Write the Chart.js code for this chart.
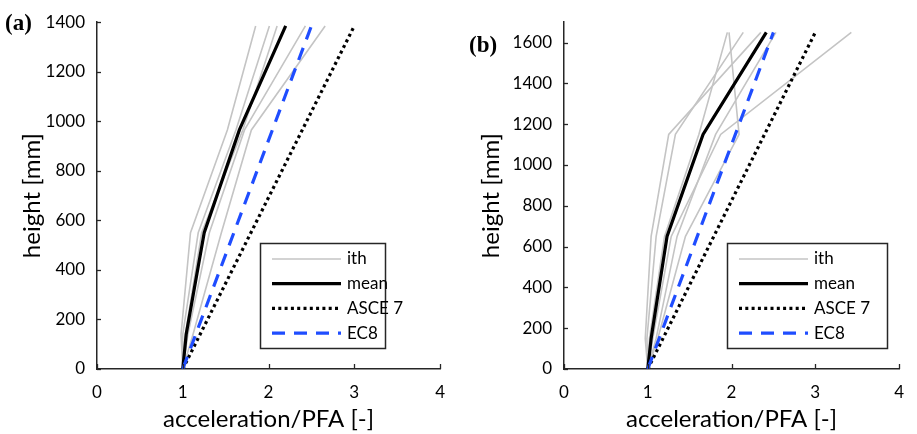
<!DOCTYPE html>
<html><head><meta charset="utf-8">
<script src="https://cdn.jsdelivr.net/npm/chart.js@4.4.1/dist/chart.umd.min.js"></script>
<style>
html,body{margin:0;padding:0;background:#fff;}
#wrap{position:relative;width:917px;height:434px;overflow:hidden;background:#fff;}
.pane{position:absolute;top:0;height:434px;}
#pa{left:0;width:458px;} #pb{left:458px;width:459px;}
.lbl{position:absolute;font-family:"Liberation Serif";font-weight:bold;font-size:23px;color:#000;line-height:1;}
</style></head><body>
<div id="wrap">
<div class="pane" id="pa"><canvas id="ca" width="458" height="434"></canvas></div>
<div class="pane" id="pb"><canvas id="cb" width="459" height="434"></canvas></div>
<div class="lbl" style="left:5px;top:11px">(a)</div>
<div class="lbl" style="left:469px;top:33px">(b)</div>
</div>
<script>
// ---- data ----
const xTickValues = [0, 1, 2, 3, 4];
const yTicksA = [0, 200, 400, 600, 800, 1000, 1200, 1400];
const yTicksB = [0, 200, 400, 600, 800, 1000, 1200, 1400, 1600];
const legendLabels = ['ith', 'mean', 'ASCE 7', 'EC8'];

const heightsA = [0, 140, 550, 965, 1385];
const ithA1 = [1, 0.98, 1.09, 1.52, 1.85];
const ithA2 = [1, 1.00, 1.18, 1.62, 2.01];
const ithA3 = [1, 1.03, 1.22, 1.70, 2.10];
const ithA4 = [1, 1.06, 1.31, 1.72, 2.43];
const ithA5 = [1, 1.12, 1.45, 1.80, 2.66];
const meanA = [1, 1.04, 1.25, 1.66, 2.20];
const codeHeightsA = [0, 1385];
const asceA = [1, 3.0];
const ec8A = [1, 2.5];

const heightsB = [0, 150, 650, 1150, 1650];
const ithB1 = [1, 0.97, 1.04, 1.25, 2.35];
const ithB2 = [1, 0.99, 1.10, 1.33, 2.14];
const ithB3 = [1, 1.02, 1.20, 1.61, 1.95];
const ithB4 = [1, 1.12, 1.45, 2.09, 1.97];
const ithB5 = [1, 1.10, 1.35, 1.81, 2.53];
const ithB6 = [1, 1.06, 1.28, 1.87, 3.43];
const meanB = [1, 1.04, 1.23, 1.66, 2.415];
const codeHeightsB = [0, 1650];
const asceB = [1, 3.0];
const ec8B = [1, 2.5];

// ---- styles ----
const FONT = 'Lato, "Open Sans", sans-serif';
const ST = {
  ith:  {borderColor:'#c4c4c4', borderWidth:1.6, borderDash:[]},
  mean: {borderColor:'#000000', borderWidth:3.2, borderDash:[]},
  asce: {borderColor:'#000000', borderWidth:3.2, borderDash:[3,3.3]},
  ec8:  {borderColor:'#1f4dff', borderWidth:3.2, borderDash:[13,9]}
};
Chart.defaults.font.family = FONT;
Chart.defaults.font.size = 17;
Chart.defaults.color = '#000';

function pts(xs, ys){ return xs.map((v,i)=>({x:v, y:ys[i]})); }
function ds(xs, ys, st, order){
  return Object.assign({data:pts(xs,ys), showLine:true, pointRadius:0, pointHoverRadius:0,
    tension:0, fill:false, order:order, borderCapStyle:'butt', borderJoinStyle:'miter'}, st);
}

const deco = {
  id:'deco',
  afterDraw(chart, args, o){
    const ctx = chart.ctx, xs = chart.scales.x, ys = chart.scales.y, ca = chart.chartArea;
    ctx.save();
    ctx.strokeStyle = '#262626'; ctx.lineWidth = 1.3;
    xs.ticks.forEach(t=>{ const p = Math.round(xs.getPixelForValue(t.value))+0.5;
      ctx.beginPath(); ctx.moveTo(p, ca.bottom); ctx.lineTo(p, ca.bottom-5); ctx.stroke(); });
    ys.ticks.forEach(t=>{ const p = Math.round(ys.getPixelForValue(t.value))+0.5;
      ctx.beginPath(); ctx.moveTo(ca.left, p); ctx.lineTo(ca.left+4, p); ctx.stroke(); });
    // legend
    const b = o.box;
    ctx.fillStyle = '#fff'; ctx.fillRect(b.x, b.y, b.w, b.h);
    ctx.strokeStyle = '#262626'; ctx.lineWidth = 1.5; ctx.setLineDash([]);
    ctx.strokeRect(b.x+0.5, b.y+0.5, b.w, b.h);
    const styles = [ST.ith, ST.mean, ST.asce, ST.ec8];
    ctx.font = '17px ' + FONT;
    ctx.textBaseline = 'middle'; ctx.textAlign = 'left';
    legendLabels.forEach((lab,i)=>{
      const y = b.y + b.row0 + i*b.dy, s = styles[i];
      ctx.strokeStyle = s.borderColor; ctx.lineWidth = s.borderWidth; ctx.setLineDash(s.borderDash);
      ctx.lineCap = 'butt';
      ctx.beginPath(); ctx.moveTo(b.x+b.s0, y); ctx.lineTo(b.x+b.s1, y); ctx.stroke();
      ctx.setLineDash([]);
      ctx.fillStyle = '#000'; ctx.fillText(lab, b.x+b.tx, y);
    });
    ctx.restore();
  }
};

function makeChart(id, cfg){
  const datasets = [];
  cfg.ith.forEach(arr=>datasets.push(ds(arr, cfg.h, ST.ith, 4)));
  datasets.push(ds(cfg.mean, cfg.h, ST.mean, 3));
  datasets.push(ds(cfg.asce, cfg.ch, ST.asce, 2));
  datasets.push(ds(cfg.ec8, cfg.ch, ST.ec8, 1));
  return new Chart(document.getElementById(id), {
    type:'scatter',
    data:{datasets},
    plugins:[deco],
    options:{
      responsive:false, animation:false, events:[],
      layout:{padding:{top:22, right:cfg.padR, left:0, bottom:0}},
      plugins:{legend:{display:false}, tooltip:{enabled:false}, deco:{box:cfg.box}},
      scales:{
        x:{type:'linear', min:0, max:4,
          afterBuildTicks:s=>{ s.ticks = xTickValues.map(v=>({value:v})); },
          ticks:{padding:13, font:{size:17}, color:'#000', callback:v=>String(v)},
          grid:{display:true, drawOnChartArea:false, drawTicks:false},
          border:{display:true, color:'#262626', width:1.5},
          title:{display:true, text:'acceleration/PFA [-]', font:{size:24}, color:'#000', padding:{top:0,bottom:0}},
          afterFit:s=>{ s.height = 65; }
        },
        y:{type:'linear', min:0, max:cfg.ymax,
          afterBuildTicks:s=>{ s.ticks = cfg.yt.map(v=>({value:v})); },
          ticks:{padding:12, font:{size:17}, color:'#000', callback:v=>String(v)},
          grid:{display:true, drawOnChartArea:false, drawTicks:false},
          border:{display:true, color:'#262626', width:1.5},
          title:{display:true, text:'height [mm]', font:{size:24}, color:'#000', padding:{top:cfg.titlePad,bottom:0}},
          afterFit:s=>{ s.width = cfg.yw; }
        }
      }
    }
  });
}

makeChart('ca', {ith:[ithA1,ithA2,ithA3,ithA4,ithA5], mean:meanA, asce:asceA, ec8:ec8A,
  h:heightsA, ch:codeHeightsA, ymax:1400, yt:yTicksA, yw:97, padR:16, titlePad:18,
  box:{x:260, y:243, w:125, h:105, row0:16, dy:24.7, s0:12, s1:81, tx:87}});
makeChart('cb', {ith:[ithB1,ithB2,ithB3,ithB4,ithB5,ithB6], mean:meanB, asce:asceB, ec8:ec8B,
  h:heightsB, ch:codeHeightsB, ymax:1700, yt:yTicksB, yw:106, padR:9, titlePad:19,
  box:{x:269, y:243, w:160, h:105, row0:16, dy:24.7, s0:12, s1:81, tx:87}});
</script>
</body></html>
